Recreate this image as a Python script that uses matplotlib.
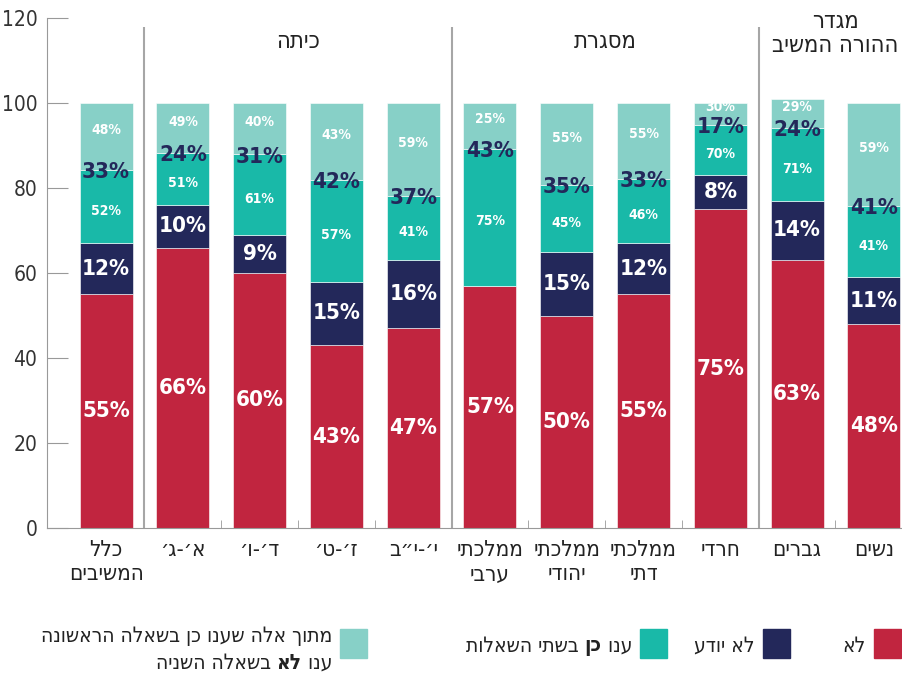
import matplotlib
matplotlib.use('Agg')
import matplotlib.pyplot as plt
from matplotlib.patches import Rectangle

plt.rcParams['font.family'] = ['DejaVu Sans']
plt.rcParams['font.stretch'] = 'condensed'


def rtl(s):
    # matplotlib has no bidi support: reverse each line of Hebrew text
    return '\n'.join(line[::-1] for line in s.split('\n'))


categories = [rtl('כלל\nהמשיבים'), rtl("א׳-ג׳"), rtl("ד׳-ו׳"), rtl("ז׳-ט׳"), rtl("י׳-י״ב"),
              rtl('ממלכתי\nערבי'), rtl('ממלכתי\nיהודי'), rtl('ממלכתי\nדתי'),
              rtl('חרדי'), rtl('גברים'), rtl('נשים')]
no = [55, 66, 60, 43, 47, 57, 50, 55, 75, 63, 48]
dont_know = [12, 10, 9, 15, 16, 0, 15, 12, 8, 14, 11]
yes_first = [33, 24, 31, 42, 37, 43, 35, 33, 17, 24, 41]
yes_both_pct = [52, 51, 61, 57, 41, 75, 45, 46, 70, 71, 41]
yes_then_no_pct = [48, 49, 40, 43, 59, 25, 55, 55, 30, 29, 59]

groups = [rtl('כיתה'), rtl('מסגרת'), rtl('מגדר\nההורה המשיב')]
group_span = [(1, 4), (5, 8), (9, 10)]
separators = [0.5, 4.5, 8.5]

RED = '#c1253f'
NAVY = '#23285a'
TEAL = '#19b9a8'
LIGHT = '#87d0c7'

yes_both = [t * p / 100 for t, p in zip(yes_first, yes_both_pct)]
yes_no = [t - b for t, b in zip(yes_first, yes_both)]

fig = plt.figure(figsize=(9.03, 6.8), dpi=100)
ax = fig.add_axes([47 / 903, 152 / 680, 856 / 903, 510 / 680])

x = list(range(len(categories)))
w = 0.69
b1 = [n + d for n, d in zip(no, dont_know)]
b2 = [a + b for a, b in zip(b1, yes_both)]
ax.bar(x, no, w, color=RED, edgecolor='white', linewidth=0.4)
ax.bar(x, dont_know, w, bottom=no, color=NAVY, edgecolor='white', linewidth=0.4)
ax.bar(x, yes_both, w, bottom=b1, color=TEAL, edgecolor='white', linewidth=0.4)
ax.bar(x, yes_no, w, bottom=b2, color=LIGHT, edgecolor='white', linewidth=0.4)

big = dict(ha='center', va='center', fontsize=16, fontweight='bold')
small = dict(ha='center', va='center', fontsize=10, fontweight='bold', color='white')
for i in x:
    ax.text(i, no[i] / 2, f'{no[i]}%', color='white', **big)
    if dont_know[i]:
        ax.text(i, no[i] + dont_know[i] / 2, f'{dont_know[i]}%', color='white', **big)
    ax.text(i, b1[i] + yes_both[i] / 2 - 1, f'{yes_both_pct[i]}%', **small)
    ax.text(i, b2[i] + yes_no[i] / 2 + 1.5, f'{yes_then_no_pct[i]}%', **small)
    ax.text(i, b2[i] - 0.5, f'{yes_first[i]}%', color=NAVY, **big)

for s in separators:
    ax.vlines(s, 0, 118, color='#a6a6a6', linewidth=1.5)
for g, (a, b) in zip(groups, group_span):
    ax.text((a + b) / 2, 122 if '\n' in g else 117.5, g, ha='center', va='top',
            fontsize=17, color='#222222', linespacing=1.0)

ax.set_xlim(-0.77, 10.38)
ax.set_ylim(0, 120)
ax.set_yticks(range(0, 121, 20))
ax.set_xticks(x)
ax.set_xticklabels(categories, fontsize=16, color='#222222', linespacing=1.25)
ax.set_xticks([i + 0.5 for i in x[:-1]], minor=True)
ax.tick_params(axis='x', which='major', length=0, pad=9)
ax.tick_params(axis='x', which='minor', direction='in', length=6, color='#999999')
ax.tick_params(axis='y', direction='in', length=15, color='#999999', pad=7,
               labelsize=15, labelcolor='#333333')
for sp in ['right', 'top']:
    ax.spines[sp].set_visible(False)
ax.spines['bottom'].set_color('#999999')
ax.spines['left'].set_color('#999999')


def rich(parts, xr, y, size=15):
    # parts in logical (right-to-left) order: (text, bold)
    prev = None
    for txt, bold in parts:
        kw = dict(ha='right', va='bottom', fontsize=size, color='#222222',
                  fontweight='bold' if bold else 'normal')
        if prev is None:
            prev = fig.text(xr / 903, 1 - y / 680, txt[::-1], **kw)
        else:
            prev = ax.annotate(txt[::-1], xy=(0, 0), xycoords=prev, **kw)


def square(xl, color):
    fig.patches.append(Rectangle((xl / 903, 1 - 658 / 680), 27 / 903, 29 / 680,
                                 transform=fig.transFigure, color=color))


square(874, RED)
rich([('לא', False)], 866, 656)
square(763, NAVY)
rich([('לא יודע', False)], 755, 656)
square(640, TEAL)
rich([('ענו ', False), ('כן', True), (' בשתי השאלות', False)], 632, 656)
square(340, LIGHT)
rich([('מתוך אלה שענו כן בשאלה הראשונה', False)], 332, 646)
rich([('ענו ', False), ('לא', True), (' בשאלה השניה', False)], 332, 673)

fig.savefig('out.png', dpi=100)
